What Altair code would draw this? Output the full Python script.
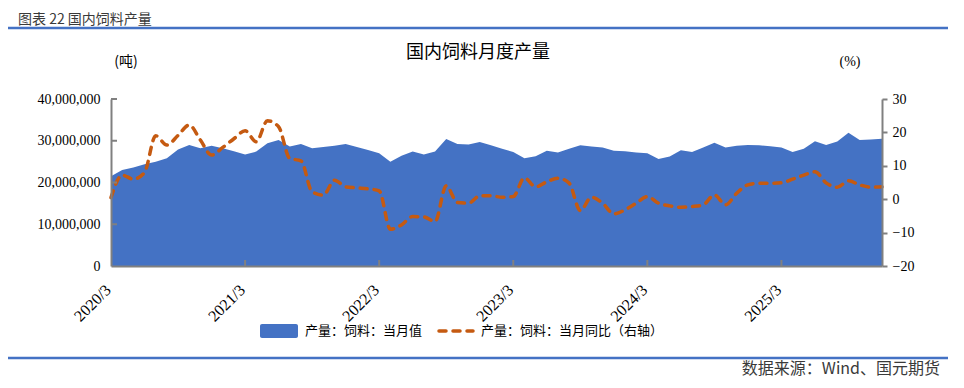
import altair as alt
import pandas as pd

# ---------------- data ----------------
months = [f"{y}/{m}" for y in range(2020, 2026) for m in range(1, 13)][2:]  # 2020/3 .. 2025/12

# 产量:饲料:当月值 (million tonnes)
production_mt = [
    21.5, 23.0, 23.6, 24.4, 25.0, 25.8, 27.9, 29.0, 28.2, 28.8,
    28.2, 27.5, 26.7, 27.4, 29.4, 30.2, 28.6, 29.2, 28.2, 28.5,
    28.8, 29.2, 28.5, 27.8, 27.0, 25.0, 26.4, 27.4, 26.7, 27.4,
    30.4, 29.2, 29.1, 29.7, 28.9, 28.1, 27.3, 25.8, 26.3, 27.6,
    27.2, 28.1, 28.9, 28.6, 28.4, 27.6, 27.5, 27.2, 27.0, 25.6,
    26.2, 27.7, 27.3, 28.4, 29.5, 28.4, 28.8, 29.0, 28.9, 28.7,
    28.4, 27.3, 28.1, 29.9, 29.0, 29.8, 31.9, 30.2, 30.3, 30.5,
]
# 产量:饲料:当月同比 (%)
yoy_pct = [
    0.5, 7.2, 6.0, 8.0, 19.0, 16.2, 19.1, 22.2, 17.7, 13.2,
    15.5, 18.1, 20.5, 17.2, 23.5, 21.7, 12.2, 11.5, 2.2, 1.2,
    5.7, 3.7, 3.4, 3.1, 2.5, -9.0, -7.7, -5.2, -5.3, -6.7,
    4.0, -1.0, -1.2, 1.0, 1.0, 0.6, 0.8, 6.4, 3.7, 5.2,
    6.3, 4.8, -3.4, 0.6, -1.2, -4.4, -3.2, -1.2, 0.8, -1.2,
    -2.0, -2.4, -2.2, -1.7, 1.3, -1.7, 1.8, 4.3, 4.8, 4.8,
    4.9, 6.0, 7.2, 8.2, 4.9, 3.6, 5.5, 4.3, 3.6, 3.7,
]
left_ticks = [0, 10_000_000, 20_000_000, 30_000_000, 40_000_000]
right_ticks = [-20, -10, 0, 10, 20, 30]
year_ticks = [0, 12, 24, 36, 48, 60]

df = pd.DataFrame({
    "idx": list(range(len(months))),
    "month": months,
    "prod": [v * 1_000_000 for v in production_mt],
    "yoy": yoy_pct,
})

W, H = 771, 167
BLUE = "#4472C4"
ORANGE = "#C55A11"
GRAY = "#808080"
SERIF = "Liberation Serif"
CJK = "Noto Sans CJK SC"

x_scale = alt.Scale(domain=[0, len(months) - 1], nice=False, zero=False)
y_left = alt.Scale(domain=[0, 40_000_000], nice=False)
y_right = alt.Scale(domain=[-20, 30], nice=False)

x_axis = alt.Axis(
    values=year_ticks,
    labelExpr="toString(2020 + floor(datum.value / 12)) + '/3'",
    labelAngle=315, labelAlign="right", labelBaseline="middle",
    labelPadding=21, labelOffset=-3,
    tickSize=0, domainColor=GRAY, domainWidth=2, grid=False, title=None,
    labelFont=SERIF, labelFontSize=16, labelColor="#000000", zindex=2,
)

area = alt.Chart(df).mark_area(color=BLUE, opacity=1).encode(
    x=alt.X("idx:Q", scale=x_scale, axis=x_axis),
    y=alt.Y("prod:Q", scale=y_left, axis=alt.Axis(
        values=left_ticks, format=",d", tickSize=0, labelPadding=11,
        domainColor=GRAY, domainWidth=2, grid=False, title=None,
        labelFont=SERIF, labelFontSize=14, labelColor="#000000", zindex=2)),
)

line = alt.Chart(df).mark_line(
    color=ORANGE, strokeWidth=3.5, strokeDash=[7, 7], strokeCap="round",
    interpolate="monotone",
).encode(
    x=alt.X("idx:Q"),
    y=alt.Y("yoy:Q", scale=y_right, axis=alt.Axis(
        orient="right", values=right_ticks, tickSize=5, tickColor=GRAY, tickWidth=2,
        labelPadding=5, domainColor=GRAY, domainWidth=2, grid=False, title=None,
        labelFont=SERIF, labelFontSize=14, labelColor="#000000", zindex=2)),
)

# inward ticks of left and bottom axes
ytick_df = pd.DataFrame({"v": left_ticks[1:]})
yticks = alt.Chart(ytick_df).mark_rule(color=GRAY, strokeWidth=2).encode(
    y=alt.Y("v:Q", scale=y_left, axis=None),
    x=alt.value(0), x2=alt.value(6),
)
xtick_df = pd.DataFrame({"idx": year_ticks[1:]})
xticks = alt.Chart(xtick_df).mark_rule(color=GRAY, strokeWidth=2).encode(
    x=alt.X("idx:Q"),
    y=alt.value(H - 6), y2=alt.value(H),
)

one = pd.DataFrame({"a": [0]})


def txt(s, x, y, size=14, font=CJK, align="center", color="#000000", baseline="middle"):
    return alt.Chart(one).mark_text(
        text=s, font=font, fontSize=size, align=align, baseline=baseline, color=color,
    ).encode(x=alt.value(x), y=alt.value(y))


def hline(x1, x2, y, color=BLUE, width=2, dash=None):
    kw = dict(color=color, strokeWidth=width)
    if dash:
        kw["strokeDash"] = dash
        kw["strokeCap"] = "round"
    return alt.Chart(one).mark_rule(**kw).encode(
        x=alt.value(x1), x2=alt.value(x2), y=alt.value(y))


header = txt("图表 22 国内饲料产量", -93, -75, size=14, align="left",
             color="#3a3a3a", baseline="alphabetic")
top_rule = hline(-103, 837, -71, width=2.5)
title = txt("国内饲料月度产量", 367, -46, size=18)
unit_l = txt("(吨)", 15, -37, size=14)
unit_r = txt("(%)", 739, -37, size=14, font=SERIF)

leg_rect = alt.Chart(one).mark_rect(color=BLUE, cornerRadius=2).encode(
    x=alt.value(149), x2=alt.value(187), y=alt.value(225), y2=alt.value(239))
leg_t1 = txt("产量：饲料：当月值", 194, 232, size=13, align="left")
leg_line = hline(328, 362, 232, color=ORANGE, width=3.5, dash=[7, 7])
leg_t2 = txt("产量：饲料：当月同比（右轴）", 370, 232, size=13, align="left")

bottom_rule = hline(-103, 837, 259, width=2.5)
source = txt("数据来源：Wind、国元期货", 829, 270, size=16, align="right", color="#3a3a3a")

chart = alt.layer(
    area, line, yticks, xticks,
    header, top_rule, title, unit_l, unit_r,
    leg_rect, leg_t1, leg_line, leg_t2, bottom_rule, source,
).resolve_scale(y="independent").properties(
    width=W, height=H,
    padding={"left": 103, "top": 91, "right": 74, "bottom": 114},
    autosize=alt.AutoSizeParams(type="none"),
).configure_view(stroke=None)

chart.save("out.html", embed_options={"renderer": "svg", "actions": False})
